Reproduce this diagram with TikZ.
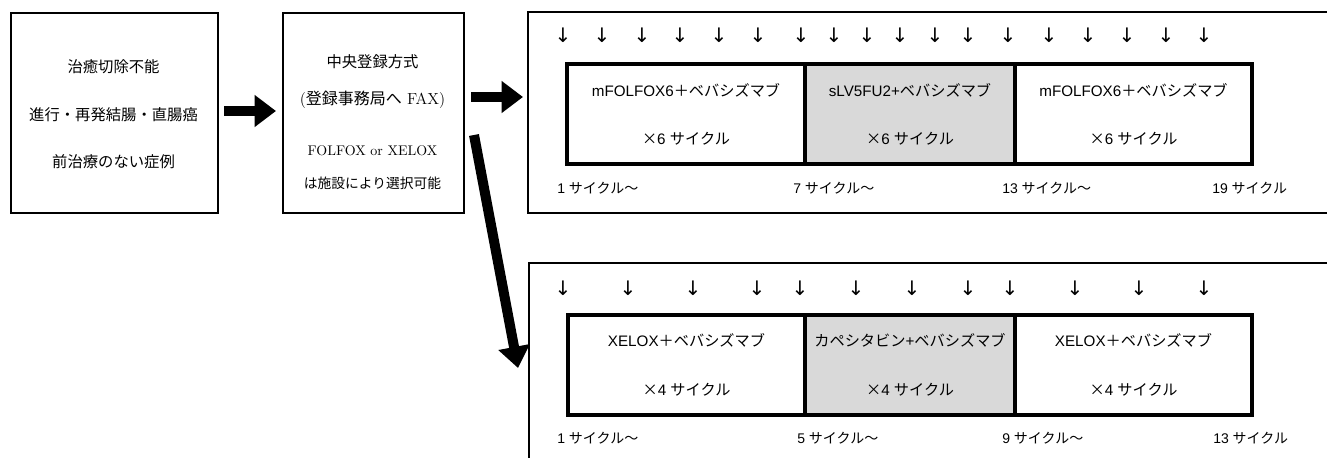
\documentclass[tikz,border=0pt]{standalone}
\usepackage{fontspec}
\newfontfamily\jpfont{Noto Sans CJK JP}
\newfontfamily\arfont{Liberation Sans}
\newfontfamily\dvfont{DejaVu Sans}
\usetikzlibrary{arrows.meta,calc}
\newcommand\jtx[1]{{\jpfont #1}}
\tikzset{
  thinbox/.style={draw, line width=1.5pt, anchor=north west, inner sep=0pt},
  segbox/.style={draw, line width=3pt, anchor=north west, inner sep=0pt, minimum height=75pt},
  graybox/.style={segbox, fill=black!15},
  bigarrow/.style={line width=7.5pt, -{Triangle[width=23pt,length=16pt]}},
  jptext/.style={font=\jpfont\fontsize{11.5}{13}\selectfont, inner sep=0pt},
  segtext/.style={font=\arfont\fontsize{11.4}{13}\selectfont, inner sep=0pt},
  cyctext/.style={font=\arfont\fontsize{10.5}{12}\selectfont, inner sep=0pt, anchor=west},
  downarr/.style={font=\dvfont\fontsize{15}{16}\selectfont, inner sep=0pt}
}
\begin{document}
\begin{tikzpicture}[x=0.75pt,y=-0.75pt]
\useasboundingbox (0,0) rectangle (1327,457);
\clip (0,0) rectangle (1327,457);
% left boxes
\node[thinbox, minimum width=155.25pt, minimum height=150pt] (box1) at (10,12) {};
\node[thinbox, minimum width=135.75pt, minimum height=150pt] (box2) at (282,12) {};
\node[jptext] (b1a) at (113.5,67) {治癒切除不能};
\node[jptext] (b1b) at (113.5,115) {進行・再発結腸・直腸癌};
\node[jptext] (b1c) at (113.5,162) {前治療のない症例};
\node[jptext] (b2a) at (372.5,62) {中央登録方式};
\node[jptext, font=\fontsize{12}{13}\selectfont] (b2b) at (372.5,100) {(\jtx{登録事務局へ} FAX)};
\node[jptext, font=\fontsize{10.5}{12}\selectfont] (b2c) at (372.5,151) {FOLFOX or XELOX};
\node[jptext, font=\jpfont\fontsize{10.3}{12}\selectfont] (b2d) at (372.5,183) {は施設により選択可能};
% outer boxes
\node[thinbox, minimum width=610pt, minimum height=150.75pt] (top) at (527,11) {};
\node[thinbox, minimum width=610pt, minimum height=160pt] (bot) at (528,262) {};
% top segments
\node[segbox, minimum width=178.5pt] (t1) at (565,62) {};
\node[graybox, minimum width=157.5pt] (t2) at (803,62) {};
\node[segbox, minimum width=177.75pt] (t3) at (1013,62) {};
\node[segtext] (t1a) at ($(t1.center)+(0,-24)$) {mFOLFOX6\jtx{＋ベバシズマブ}};
\node[segtext] (t1b) at ($(t1.center)+(0,25)$) {\jtx{×}6 \jtx{サイクル}};
\node[segtext] (t2a) at ($(t2.center)+(0,-24)$) {sLV5FU2+\jtx{ベバシズマブ}};
\node[segtext] (t2b) at ($(t2.center)+(0,25)$) {\jtx{×}6 \jtx{サイクル}};
\node[segtext] (t3a) at ($(t3.center)+(0,-24)$) {mFOLFOX6\jtx{＋ベバシズマブ}};
\node[segtext] (t3b) at ($(t3.center)+(0,25)$) {\jtx{×}6 \jtx{サイクル}};
% bottom segments
\node[segbox, minimum width=177.75pt] (u1) at (566,313) {};
\node[graybox, minimum width=157.5pt] (u2) at (803,313) {};
\node[segbox, minimum width=177.75pt] (u3) at (1013,313) {};
\node[segtext] (u1a) at ($(u1.center)+(0,-25)$) {XELOX\jtx{＋ベバシズマブ}};
\node[segtext] (u1b) at ($(u1.center)+(0,25)$) {\jtx{×}4 \jtx{サイクル}};
\node[segtext] (u2a) at ($(u2.center)+(0,-25)$) {\jtx{カペシタビン}+\jtx{ベバシズマブ}};
\node[segtext] (u2b) at ($(u2.center)+(0,25)$) {\jtx{×}4 \jtx{サイクル}};
\node[segtext] (u3a) at ($(u3.center)+(0,-25)$) {XELOX\jtx{＋ベバシズマブ}};
\node[segtext] (u3b) at ($(u3.center)+(0,25)$) {\jtx{×}4 \jtx{サイクル}};
% small arrows
\foreach \x [count=\i] in {563,602,642,680,719,758,801,834,867,900,935,968,1008,1049,1088,1127,1166,1204}
  \node[downarr] (da\i) at (\x,35) {↓};
\foreach \x [count=\i] in {563,628,693,757,800,856,912,968,1010,1075,1139,1204}
  \node[downarr] (db\i) at (\x,288) {↓};
% cycle labels
\node[cyctext] (c1) at (557,188) {1 \jtx{サイクル～}};
\node[cyctext] (c2) at (793,188) {7 \jtx{サイクル～}};
\node[cyctext] (c3) at (1002,188) {13 \jtx{サイクル～}};
\node[cyctext] (c4) at (1212,188) {19 \jtx{サイクル}};
\node[cyctext] (d1) at (557,438) {1 \jtx{サイクル～}};
\node[cyctext] (d2) at (797,438) {5 \jtx{サイクル～}};
\node[cyctext] (d3) at (1002,438) {9 \jtx{サイクル～}};
\node[cyctext] (d4) at (1213,438) {13 \jtx{サイクル}};
% big arrows
\draw[bigarrow] ($(box1.east)+(5,-2)$) -- ($(box2.west)+(-6,-2)$);
\draw[bigarrow] ($(box2.north east)+(6,85)$) -- ($(top.north west)+(-4,86)$);
\draw[bigarrow] ($(box2.north east)+(9,123)$) -- ($(bot.north west)+(-10,106)$);
\end{tikzpicture}
\end{document}
